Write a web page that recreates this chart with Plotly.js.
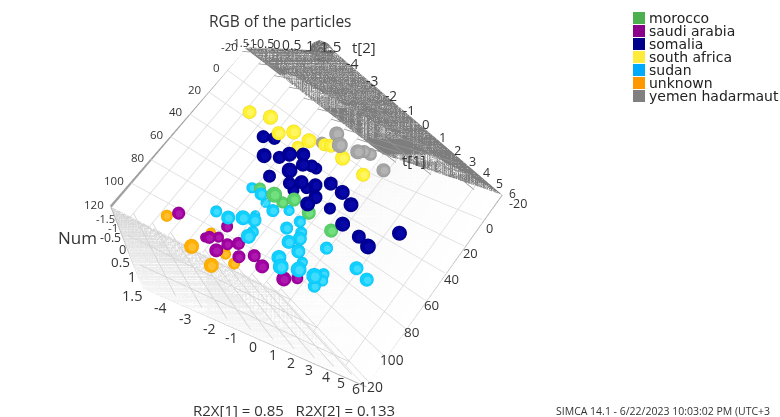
<!DOCTYPE html>
<html><head><meta charset="utf-8">
<script src="https://cdn.plot.ly/plotly-3.0.1.min.js"></script>
<style>html,body{margin:0;padding:0;width:780px;height:417px;overflow:hidden;background:#fff}#g{position:absolute;left:0;top:0}</style>
</head><body><div id="g"></div>
<script>
var groups=['morocco','saudi arabia','somalia','south africa','sudan','unknown','yemen hadarmaut'];
var t1_morocco=[-0.17,-2.42,1.17,-0.12,0.81,2.22];
var num_morocco=[57,54,57,51,53,55];
var t2_morocco=[-0.5,1.45,-0.5,0.5,0.5,0.5];
var t1_saudi=[-2.98,-0.27,0.59,-1.30,0.44,0.29,-0.08,-1.42,0.33,0.88,0.62,0.81,4.39];
var num_saudi=[93,89,109,97,101,99,92,98,99,94,94,91,97];
var t2_saudi=[0,-0.5,-1.5,0,-1,-0.5,0,0.5,0,0,0.5,1,-0.5];
var t1_somalia=[-2.25,-1.81,-3.00,-1.09,-2.26,-1.05,-0.78,0.38,1.47,-2.53,-0.90,0.05,-0.34,0.26,0.79,0.53,1.23,1.71,0.61,1.20,-0.38,3.44,1.44,3.57,2.02,4.01];
var num_somalia=[29,26,40,34,32,26,31,27,25,40,47,44,40,37,31,33,46,40,43,36,49,43,48,49,51,34];
var t2_somalia=[0,0,1,0,1,0.5,0.5,0,-0.5,1.45,0,0,0.5,0.5,0.5,1,-0.5,-0.5,0.5,1,1,-0.5,1,0.5,1.45,1];
var t1_africa=[-3.75,-3.79,-2.46,-2.68,-1.98,0.01,0.24,-0.30,-0.40,1.79];
var num_africa=[23,22,24,21,20,20,11,12,17,15];
var t2_africa=[0.35,1.05,0.5,1,1,-0.5,0,0.5,1,0.5];
var t1_sudan=[0.19,-0.69,2.03,0.24,2.56,-1.13,-1.89,-2.13,2.01,-0.94,0.91,-1.50,1.31,2.55,2.98,1.23,0.90,1.55,3.63,0.06,5.07,-0.49,0.17,0.87,5.71,5.66,4.37,4.50,5.35];
var num_sudan=[60,59,65,64,60,84,79,73,77,73,84,80,69,62,68,69,74,76,67,82,88,83,80,79,86,90,93,67,70];
var t2_sudan=[-1,0,-1.5,0,-1,-0.5,0.5,1,-1.5,0.5,-0.5,1,0,-0.5,-0.5,0.5,0.5,0.5,0,1,-1,1.45,1.45,1.45,-0.6,-0.5,0,0.5,0.5];
var t1_unknown=[-2.75,-2.98,0.67,1.29,1.16,-1.94];
var num_unknown=[101,98,104,109,108,102];
var t2_unknown=[-0.5,1,-1.5,-1,-0.5,1];
var t1_yemen=[-1.25,-1.61,0.86,-0.04,2.06,2.42,2.49];
var num_yemen=[8,15,8,9,-1,-2,5];
var t2_yemen=[1,1.45,-0.5,1,0,0,0.5];
var t1Ticks=[-4,-3,-2,-1,0,1,2,3,4,5,6];
var numTicks=[-20,0,20,40,60,80,100,120];
var t2Ticks=[-1.5,-1,-0.5,0,0.5,1,1.5];
var sideT2=[-1,0,1];

var W=1299,H=573;
var groupData=[[t1_morocco,num_morocco,t2_morocco,'#5ad06a','#48bc58','#4caf50','#72e07e'],
[t1_saudi,num_saudi,t2_saudi,'#a000a0','#880088','#8b008b','#ae18ae'],
[t1_somalia,num_somalia,t2_somalia,'#000098','#000080','#00008b','#0808a8'],
[t1_africa,num_africa,t2_africa,'#fff030','#ecd818','#ffeb3b','#fff662'],
[t1_sudan,num_sudan,t2_sudan,'#10d0ff','#08bcf0','#00aaff','#40dcff'],
[t1_unknown,num_unknown,t2_unknown,'#ffb000','#f0a000','#ff9800','#ffc030'],
[t1_yemen,num_yemen,t2_yemen,'#a4a4a4','#909090','#808080','#b4b4b4']];
var traces=[];
function quad(a,b,c,d,col){
 var ps=[a,b,c,d];
 traces.push({type:'mesh3d',x:ps.map(function(p){return p[0]}),y:ps.map(function(p){return -p[1]}),z:ps.map(function(p){return p[2]}),
  i:[0,0],j:[1,2],k:[2,3],vertexcolor:col,lighting:{ambient:1,diffuse:0,specular:0,roughness:1,fresnel:0},flatshading:true,hoverinfo:'none',showscale:false});
}
function line(pts,col,w){
 var x=[],y=[],z=[];pts.forEach(function(p){if(p){x.push(p[0]);y.push(-p[1]);z.push(p[2])}else{x.push(null);y.push(null);z.push(null)}});
 traces.push({type:'scatter3d',mode:'lines',x:x,y:y,z:z,line:{color:col,width:w},hoverinfo:'none',connectgaps:false});
}
var lo=[-4,-20,-1.5],hi=[6,120,1.5];
function grid(fixIdx,val,aIdx,aT,bIdx,bT,col,w){
 var pts=[];
 aT.forEach(function(a){var p=[0,0,0],q=[0,0,0];p[fixIdx]=q[fixIdx]=val;p[aIdx]=q[aIdx]=a;p[bIdx]=lo[bIdx];q[bIdx]=hi[bIdx];pts.push(p,q,null)});
 bT.forEach(function(b){var p=[0,0,0],q=[0,0,0];p[fixIdx]=q[fixIdx]=val;p[bIdx]=q[bIdx]=b;p[aIdx]=lo[aIdx];q[aIdx]=hi[aIdx];pts.push(p,q,null)});
 line(pts,col,w);
}
quad([-4,-20,-1.5],[6,-20,-1.5],[6,-20,1.5],[-4,-20,1.5],['#7e7e7e','#7e7e7e','#7e7e7e','#7e7e7e']);
quad([-4,120,-1.5],[6,120,-1.5],[6,120,1.5],[-4,120,1.5],['#d4d4d4','#e8e8e8','#ffffff','#f4f4f4']);
quad([6,-20,-1.5],[6,120,-1.5],[6,120,1.5],[6,-20,1.5],['#f8f8f8','#f8f8f8','#ffffff','#ffffff']);
grid(2,-1.49,0,t1Ticks,1,numTicks,'#dcdcdc',1.5);
grid(0,5.9,1,numTicks,2,sideT2,'#dcdcdc',1.5);
grid(1,-17,0,t1Ticks,2,sideT2,'#949494',1.5);
grid(1,117,0,t1Ticks,2,sideT2,'#d2d2d2',1.5);
line([[-4,120,-1.5],[-4,120,1.5],[6,120,1.5],[6,-20,1.5]],'#b0b0b0',2);
line([[-4,-20,-1.5],[-4,120,-1.5]],'#a0a0a0',5);
line([[-4,-20,-1.5],[-4,-20,1.5]],'#5c5c5c',4);
function dia(t){return (10+(t+1.5)*2)*1.12}
groupData.forEach(function(g,i){
 var ys=g[1].map(function(n){return -n});
 traces.push({type:'scatter3d',mode:'markers',name:groups[i],x:g[0],y:ys,z:g[2],
  marker:{color:g[3],opacity:1,size:g[2].map(dia),line:{color:g[4],width:1}},hoverinfo:'none'});
 traces.push({type:'scatter3d',mode:'markers',name:groups[i]+' shine',x:g[0],y:ys,z:g[2].map(function(t){return t+0.03}),
  marker:{color:g[6],opacity:1,size:g[2].map(function(t){return dia(t)*0.55}),line:{width:0}},hoverinfo:'none'});
});
traces.push({type:'cone',x:[-4],y:[20],z:[1.5],u:[0],v:[0],w:[1],anchor:'tip',sizemode:'absolute',sizeref:0.33,showscale:false,colorscale:[[0,'#808080'],[1,'#808080']],hoverinfo:'none',lighting:{ambient:.85,diffuse:.6,specular:.2}});
traces.push({type:'cone',x:[-4],y:[-120],z:[-1.5],u:[0],v:[-1],w:[0],anchor:'tip',sizemode:'absolute',sizeref:0.35,showscale:false,colorscale:[[0,'#8c8c8c'],[1,'#8c8c8c']],hoverinfo:'none',lighting:{ambient:.85,diffuse:.6,specular:.2}});

var sceneAnn=[];
function lab(t,n,z,text,size,xs,ys,anchor){sceneAnn.push({x:t,y:-n,z:z,text:String(text),showarrow:false,xshift:xs,yshift:ys,xanchor:anchor||'center',yanchor:'middle',font:{family:'Open Sans',size:size,color:'#333'}});}
t1Ticks.forEach(function(t,i){lab(t,-20,1.5,t,14-i*0.2,17-i*0.7,-12+i*1.3);lab(t,120,1.5,t,14,17-i*2.7,-19+i*1.7);});
numTicks.forEach(function(n,i){lab(-4,n,-1.5,n,11.5,-5,2,'right');lab(6,n,1.5,n,12.5+i*0.2,i===0?16:5,-9+i*1.3,'center');});
t2Ticks.forEach(function(t,i){lab(-4,-20,t,t,11+i*0.7,-5,6);lab(-4,120,t,t,11+i*0.6,6-i*0.7,-12+i,'right');});

function paper(px,py,text,size,anchor,col,fam){return {xref:'paper',yref:'paper',x:px/W,y:1-py/H,text:text,showarrow:false,xanchor:anchor||'left',yanchor:'middle',font:{family:fam||'Open Sans',size:size,color:col||'#333'}};}
var anns=[paper(280,21,'RGB of the particles',15.5,'center'),
 paper(350,47,'t[2]',15,'left'),paper(400,160,'t[1]',15,'left'),paper(77,237,'Num',17,'center'),
 paper(294,410,'R2X[1] = 0.85&nbsp;&nbsp;&nbsp;R2X[2] = 0.133',15,'center'),
 paper(554,411,'SIMCA 14.1 - 6/22/2023 10:03:02 PM (UTC+3',10.5,'left')];
var shapes=[];
groups.forEach(function(n,i){var y=18+i*13;
 shapes.push({type:'rect',xref:'paper',yref:'paper',x0:633/W,x1:645/W,y0:1-(y+6)/H,y1:1-(y-6)/H,fillcolor:groupData[i][5],line:{width:0}});
 anns.push(paper(647,y,n,14,'left','#222','DejaVu Sans'));
});
Plotly.newPlot('g',traces,{width:W,height:H,margin:{l:0,r:0,t:0,b:0},paper_bgcolor:'#fff',showlegend:false,annotations:anns,shapes:shapes,
 scene:{domain:{x:[0,1],y:[0.052,0.948]},bgcolor:'#fff',aspectmode:'manual',aspectratio:{x:0.8528,y:1,z:1.4269},
  xaxis:{visible:false,autorange:false,range:[-4,6]},yaxis:{visible:false,autorange:false,range:[-120,20]},zaxis:{visible:false,autorange:false,range:[-1.5,1.5]},
  camera:{eye:{x:-0.9787,y:0,z:3.1784},center:{x:0.8912,y:0.4853,z:1.3455},up:{x:-0.0977,y:0.8314,z:-0.5750},projection:{type:'perspective'}},
  annotations:sceneAnn}},{displayModeBar:false});
</script></body></html>
